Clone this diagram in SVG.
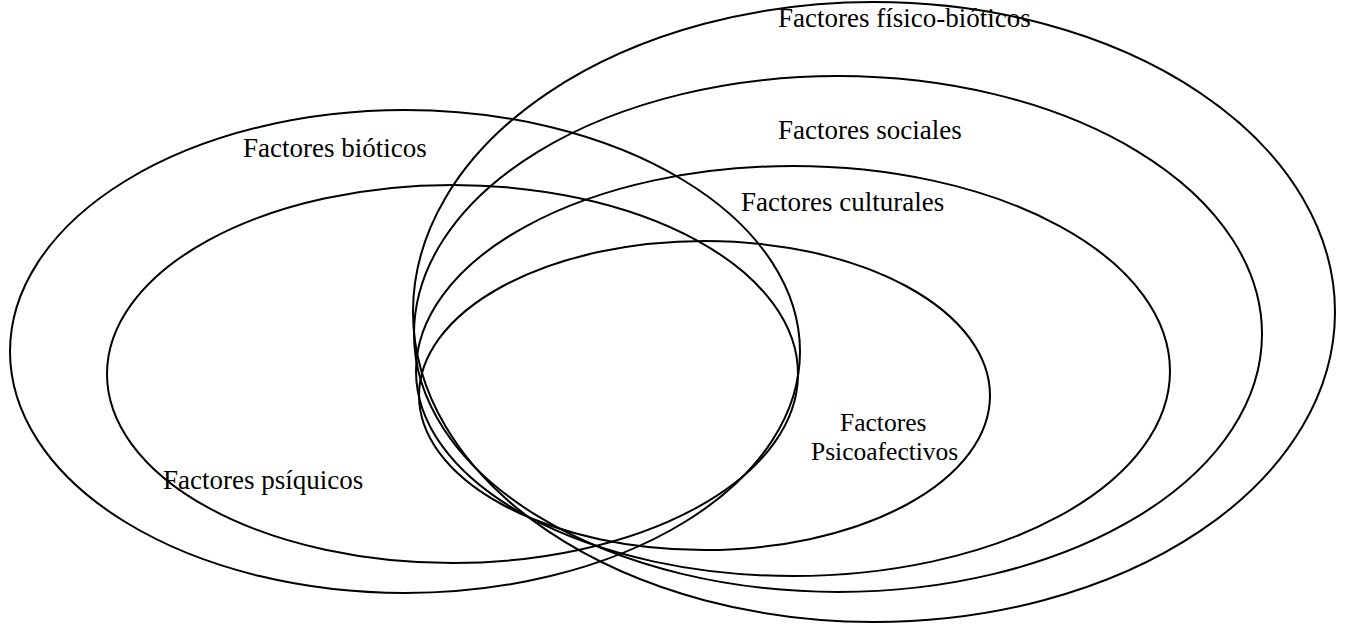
<svg xmlns="http://www.w3.org/2000/svg" width="1348" height="625" viewBox="0 0 1348 625">
<style>
.e{fill:none;stroke:#000;stroke-width:2}
.t{font-family:"Liberation Serif","Times New Roman",serif;font-size:27px;fill:#000}
.s{font-size:25.5px}
</style>
<rect width="1348" height="625" fill="#fff"/>
<g id="bioticos"><ellipse class="e" cx="405" cy="351.5" rx="395" ry="241.5"/><text class="t" x="243" y="157">Factores bióticos</text></g>
<g id="psiquicos"><ellipse class="e" cx="452.5" cy="374" rx="345.5" ry="189"/><text class="t" x="163" y="489">Factores psíquicos</text></g>
<g id="fisico"><ellipse class="e" cx="874" cy="312" rx="461" ry="310"/><text class="t" x="778" y="27">Factores físico-bióticos</text></g>
<g id="sociales"><ellipse class="e" cx="838" cy="334" rx="424" ry="258"/><text class="t" x="778" y="139">Factores sociales</text></g>
<g id="culturales"><ellipse class="e" cx="793" cy="371" rx="377" ry="205"/><text class="t" x="741" y="211">Factores culturales</text></g>
<g id="psicoafectivos"><ellipse class="e" cx="704.5" cy="395.5" rx="285.5" ry="154.5"/><text class="t s" x="840" y="431">Factores</text><text class="t s" x="811" y="460">Psicoafectivos</text></g>
</svg>
